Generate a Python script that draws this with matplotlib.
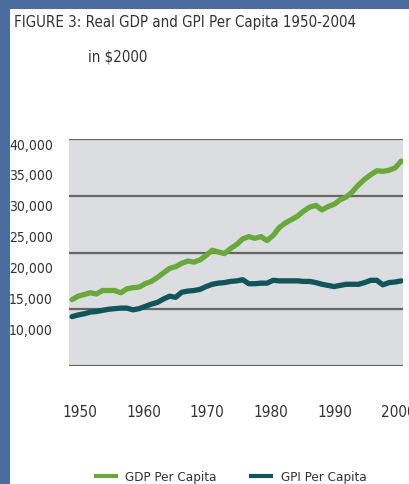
import matplotlib.pyplot as plt
from matplotlib.lines import Line2D

# Real GDP and GPI per capita, 1950-2004, in 2000 dollars
years = list(range(1950, 2005))
gdp = [11700, 12300, 12600, 12900, 12700, 13300, 13300, 13300, 12900, 13600,
       13800, 13900, 14500, 14900, 15600, 16400, 17200, 17500, 18100, 18500,
       18300, 18700, 19500, 20400, 20100, 19800, 20700, 21400, 22400, 22800,
       22500, 22800, 22100, 23000, 24400, 25200, 25800, 26400, 27300, 28000,
       28300, 27500, 28100, 28500, 29300, 29800, 30700, 31900, 32900, 33700,
       34400, 34300, 34500, 34900, 36100]
gpi = [8700, 9000, 9200, 9500, 9600, 9800, 10000, 10100, 10200, 10200,
       9900, 10100, 10500, 10900, 11200, 11800, 12300, 12100, 13000, 13200,
       13300, 13500, 14000, 14400, 14600, 14700, 14900, 15000, 15200, 14500,
       14500, 14600, 14600, 15100, 15000, 15000, 15000, 15000, 14900, 14900,
       14700, 14400, 14200, 14000, 14200, 14400, 14400, 14400, 14700, 15100,
       15100, 14300, 14700, 14800, 15000]

grid_values = [0, 10000, 20000, 30000, 40000]
y_labels = [10000, 15000, 20000, 25000, 30000, 35000, 40000]
x_labels = [1950, 1960, 1970, 1980, 1990, 2000]

GREEN = '#6aa83c'
TEAL = '#0f5559'
TEXT = '#333333'
FONT = dict(family='DejaVu Sans', stretch='condensed')

fig = plt.figure(figsize=(4.10, 4.84), dpi=100)
fig.patch.set_facecolor('#4b6c9c')

# white page over the blue backdrop
page = fig.add_axes([10 / 410, 0, 399 / 410, 475 / 484], zorder=0)
page.set_facecolor('white')
page.set_xticks([])
page.set_yticks([])
for s in page.spines.values():
    s.set_visible(False)
page.spines['right'].set_visible(True)
page.spines['right'].set_color('#bbbbbb')
page.spines['right'].set_linewidth(0.8)

fig.text(14 / 410, 1 - 22 / 484, 'FIGURE 3: Real GDP and GPI Per Capita 1950-2004',
         fontsize=10.8, color=TEXT, va='center', ha='left', **FONT)
fig.text(88 / 410, 1 - 57 / 484, 'in $2000',
         fontsize=10.8, color=TEXT, va='center', ha='left', **FONT)

rect = [69 / 410, 1 - 366 / 484, 334 / 410, 227 / 484]

ax = fig.add_axes(rect, zorder=1)
ax.set_facecolor('#dcdde0')
ax.plot(years, gdp, color=GREEN, lw=3.8, solid_capstyle='round', zorder=3)
ax.plot(years, gpi, color=TEAL, lw=3.8, solid_capstyle='round', zorder=3)
ax.set_xlim(1949.5, 2004.3)
ax.set_ylim(0, 40000)
ax.set_yticks(grid_values)
ax.yaxis.grid(True, color='#666666', lw=1.6)
ax.set_axisbelow(True)
ax.tick_params(left=False, bottom=False, labelleft=False, labelbottom=False)
for s in ax.spines.values():
    s.set_visible(False)

# tick labels sit on their own evenly spaced scale
lab = fig.add_axes(rect, frameon=False, zorder=2)
lab.patch.set_visible(False)
lab.set_ylim(4000, 40811)
lab.set_xlim(1948.27, 2000.79)
lab.set_yticks(y_labels)
lab.set_yticklabels([f'{v:,}' for v in y_labels])
lab.set_xticks(x_labels)
lab.set_xticklabels([str(v) for v in x_labels])
lab.tick_params(axis='y', length=0, pad=11.5, labelsize=10, labelcolor=TEXT)
lab.tick_params(axis='x', length=0, pad=28, labelsize=11, labelcolor=TEXT)
for t in lab.get_xticklabels() + lab.get_yticklabels():
    t.set_family(FONT['family'])
    t.set_stretch(FONT['stretch'])

handles = [Line2D([], [], color=GREEN, lw=3), Line2D([], [], color=TEAL, lw=3)]
fig.legend(handles, ['GDP Per Capita', 'GPI Per Capita'], ncol=2,
           loc='center', bbox_to_anchor=(231 / 410, 1 - 477 / 484),
           frameon=False, handlelength=1.5, handletextpad=0.7,
           columnspacing=2.6, prop=dict(size=9.6, **FONT), labelcolor=TEXT)

fig.savefig('out.png', dpi=100)
